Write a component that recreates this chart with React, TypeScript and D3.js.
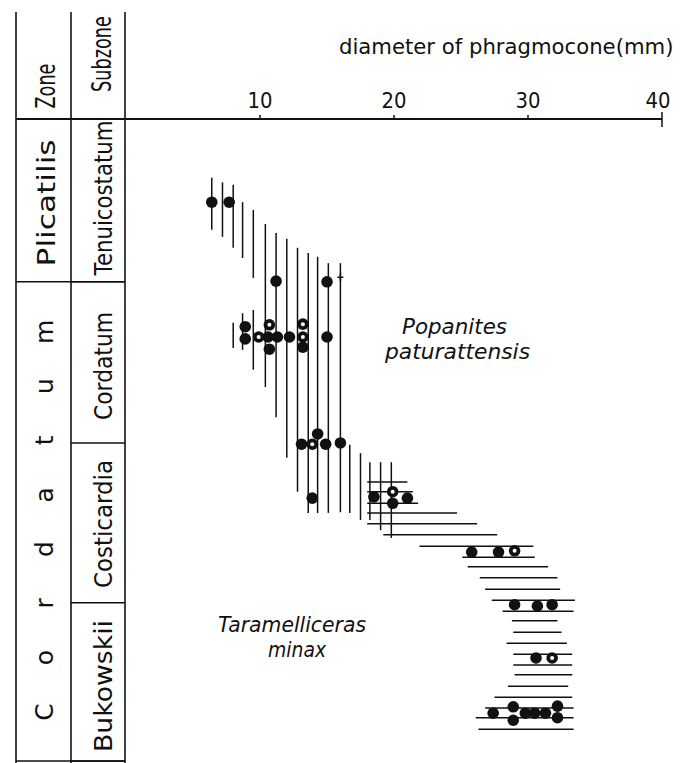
import React from "react";
import * as d3 from "d3";

// ---- data ----
const xTicks = [10, 20, 30, 40];

const zoneNames = ["Plicatilis", "Cordatum"];
const zoneTop = [0, 25.2];
const zoneBottom = [25.2, 100];

const subzoneNames = ["Tenuicostatum", "Cordatum", "Costicardia", "Bukowskii"];
const subzoneTop = [0, 25.2, 50.3, 75.2];
const subzoneBottom = [25.2, 50.3, 75.2, 100];

// Popanites paturattensis: vertical hatch lines (diameter mm, level top, level bottom)
const popX = [6.4, 7.2, 8.0, 8.0, 8.7, 8.7, 9.5, 9.5, 10.4, 11.2, 12.0, 12.8, 13.6, 14.3, 15.1, 16.0, 16.7, 17.5, 18.2, 19.0, 19.8];
const popTop = [9.0, 9.7, 10.1, 31.6, 12.8, 30.1, 14.0, 29.6, 16.2, 17.6, 18.5, 19.9, 20.7, 21.3, 22.3, 22.3, 50.6, 51.9, 53.3, 53.3, 53.3];
const popBottom = [17.1, 18.2, 19.9, 35.5, 21.5, 35.8, 24.6, 38.9, 41.6, 46.3, 52.6, 57.9, 61.2, 61.2, 61.2, 61.1, 61.2, 62.3, 62.3, 63.9, 65.1];

// Taramelliceras minax: horizontal hatch lines (level, diameter min, diameter max)
const taraLevel = [56.4, 57.9, 59.7, 61.2, 62.9, 64.6, 66.4, 68.1, 69.6, 71.3, 73.1, 74.8, 76.5, 78.0, 79.8, 81.5, 83.2, 84.9, 86.4, 88.2, 89.9, 91.6, 93.1, 94.9];
const taraMin = [18.0, 18.0, 18.0, 18.0, 18.0, 19.2, 21.9, 25.1, 25.5, 26.4, 26.8, 27.3, 28.1, 28.8, 28.9, 28.4, 28.9, 28.9, 29.0, 28.5, 27.5, 26.8, 26.1, 26.3];
const taraMax = [21.0, 21.4, 21.8, 24.7, 26.2, 27.7, 30.4, 30.5, 31.5, 32.2, 32.4, 33.5, 33.4, 32.2, 32.5, 32.9, 33.3, 33.3, 33.3, 33.0, 33.3, 33.4, 33.4, 33.4];

// specimens (diameter mm, level, kind)
const specD = [6.4, 7.7, 11.2, 15.0, 16.0, 8.9, 8.9, 9.9, 10.7, 10.6, 11.3, 12.2, 10.7, 13.2, 13.2, 13.2, 15.0, 14.3, 13.1, 13.9, 14.9, 16.0, 13.9, 18.5, 19.9, 19.9, 21.0, 25.8, 27.8, 29.0, 29.0, 30.7, 31.8, 30.6, 31.8, 27.4, 28.9, 28.9, 29.8, 30.5, 31.3, 32.2, 32.2];
const specLevel = [12.8, 12.8, 25.1, 25.2, 24.5, 32.2, 34.1, 33.8, 31.9, 33.8, 33.8, 33.8, 35.7, 31.8, 33.8, 35.4, 33.8, 48.9, 50.5, 50.5, 50.5, 50.3, 58.9, 58.7, 57.9, 59.7, 58.9, 67.3, 67.3, 67.1, 75.5, 75.7, 75.5, 83.8, 83.8, 92.4, 91.4, 93.5, 92.4, 92.4, 92.4, 91.3, 93.1];
const specKind = ["f", "f", "f", "f", "x", "f", "f", "o", "o", "f", "f", "f", "f", "o", "o", "f", "f", "f", "f", "o", "f", "f", "f", "f", "o", "f", "f", "f", "f", "o", "f", "f", "f", "f", "o", "f", "f", "f", "f", "f", "f", "f", "f"];

// ---- layout ----
const W = 681;
const H = 763;
const colL = 16;
const colM = 71;
const colR = 125;
const FONT = "'DejaVu Sans', sans-serif";

const x = d3.scaleLinear().domain([0, 40]).range([126, 662]);
const y = d3.scaleLinear().domain([0, 100]).range([120, 762]);

const subzoneLen = [155, 108, 128, 132];
const subzoneCenter = [198, 366, 524, 686];

export default function App() {
  const axisY = 119;
  const zoneLetters = "Cordatum".split("").reverse();
  const letterMid = (y(zoneTop[1]) + y(zoneBottom[1])) / 2;
  const letterStep = 54.3;

  return (
    <svg
      width={W}
      height={H}
      style={{ position: "absolute", left: 0, top: 0, background: "#fff" }}
      fontFamily={FONT}
    >
      <rect x={0} y={0} width={W} height={H} fill="#fff" />
      {/* frame columns */}
      {[colL, colM, colR].map((cx, i) => (
        <line key={"v" + i} x1={cx} x2={cx} y1={12} y2={763} stroke="#111" strokeWidth={1.6} />
      ))}
      {/* axis line */}
      <line x1={colL} x2={x(40)} y1={axisY} y2={axisY} stroke="#111" strokeWidth={1.8} />
      {xTicks.map((t) => (
        <g key={"t" + t}>
          <line
            x1={x(t)}
            x2={x(t)}
            y1={t === 40 ? axisY - 7 : axisY - 4}
            y2={t === 40 ? axisY + 8 : axisY}
            stroke="#111"
            strokeWidth={1.5}
          />
          <text x={x(t) - (t === 40 ? 4 : 0)} y={108} fontSize={21} textAnchor="middle" textLength={25} lengthAdjust="spacingAndGlyphs" fill="#111">
            {t}
          </text>
        </g>
      ))}
      <text x={339} y={54} fontSize={21.2} fill="#111">
        diameter of phragmocone(mm)
      </text>

      {/* headers */}
      <text transform={`translate(55,86) rotate(-90) scale(0.68,1)`} fontSize={26} textAnchor="middle" fill="#111">
        Zone
      </text>
      <text transform={`translate(111,54) rotate(-90) scale(0.68,1)`} fontSize={26} textAnchor="middle" fill="#111">
        Subzone
      </text>

      {/* zone boundaries */}
      {zoneBottom.map((b, i) => (
        <line key={"zb" + i} x1={colL} x2={colR} y1={y(b) - (b === 100 ? 1 : 0)} y2={y(b) - (b === 100 ? 1 : 0)} stroke="#111" strokeWidth={1.5} />
      ))}
      {subzoneBottom.map((b, i) => (
        <line key={"sb" + i} x1={colM} x2={colR} y1={y(b) - (b === 100 ? 1 : 0)} y2={y(b) - (b === 100 ? 1 : 0)} stroke="#111" strokeWidth={1.5} />
      ))}

      {/* zone labels */}
      <text
        transform={`translate(55,${(y(zoneTop[0]) + y(zoneBottom[0])) / 2 + 2}) rotate(-90)`}
        fontSize={25}
        textAnchor="middle"
        textLength={127}
        lengthAdjust="spacingAndGlyphs"
        fill="#111"
      >
        {zoneNames[0]}
      </text>
      {zoneLetters.map((ch, i) => (
        <text
          key={"zl" + i}
          transform={`translate(53,${letterMid + (i - (zoneLetters.length - 1) / 2) * letterStep}) rotate(-90)`}
          fontSize={25}
          textAnchor="middle"
          fill="#111"
        >
          {i === zoneLetters.length - 1 ? ch : ch.toLowerCase()}
        </text>
      ))}

      {/* subzone labels */}
      {subzoneNames.map((n, i) => (
        <text
          key={"sz" + i}
          transform={`translate(112,${subzoneCenter[i]}) rotate(-90)`}
          fontSize={25}
          textAnchor="middle"
          textLength={subzoneLen[i]}
          lengthAdjust="spacingAndGlyphs"
          fill="#111"
        >
          {n}
        </text>
      ))}

      {/* Popanites vertical hatching */}
      {popX.map((d, i) => (
        <line key={"p" + i} x1={x(d)} x2={x(d)} y1={y(popTop[i])} y2={y(popBottom[i])} stroke="#111" strokeWidth={1.5} />
      ))}
      {/* Taramelliceras horizontal hatching */}
      {taraLevel.map((l, i) => (
        <line key={"h" + i} x1={x(taraMin[i])} x2={x(taraMax[i])} y1={y(l)} y2={y(l)} stroke="#111" strokeWidth={1.5} />
      ))}

      {/* specimens */}
      {specD.map((d, i) => {
        const cx = x(d);
        const cy = y(specLevel[i]);
        if (specKind[i] === "x") {
          return (
            <g key={"s" + i} stroke="#111" strokeWidth={1.5}>
              <line x1={cx - 3} x2={cx + 3} y1={cy} y2={cy} />
              <line x1={cx} x2={cx} y1={cy - 4} y2={cy + 4} />
            </g>
          );
        }
        return (
          <g key={"s" + i}>
            <circle cx={cx} cy={cy} r={5.8} fill="#111" />
            {specKind[i] === "o" && <circle cx={cx} cy={cy} r={2} fill="#fff" />}
          </g>
        );
      })}

      {/* species names */}
      <g fontStyle="italic" fill="#111" fontSize={22}>
        <text x={402} y={334} textLength={105} lengthAdjust="spacingAndGlyphs">Popanites</text>
        <text x={385} y={359} textLength={145} lengthAdjust="spacingAndGlyphs">paturattensis</text>
        <text x={218} y={632} textLength={148} lengthAdjust="spacingAndGlyphs">Taramelliceras</text>
        <text x={268} y={657} textLength={58} lengthAdjust="spacingAndGlyphs">minax</text>
      </g>
    </svg>
  );
}
